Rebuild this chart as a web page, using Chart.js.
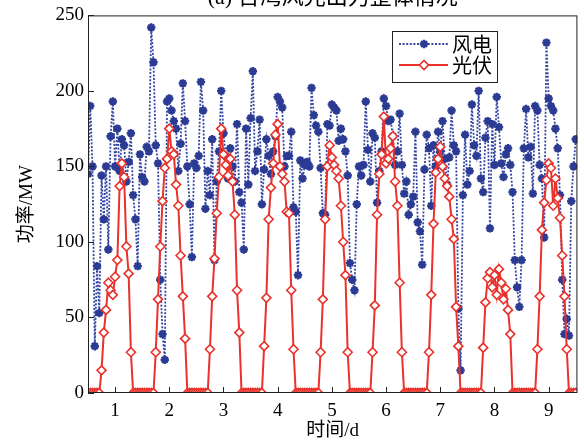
<!DOCTYPE html>
<html>
<head>
<meta charset="utf-8">
<script src="https://cdn.jsdelivr.net/npm/chart.js@4.4.1/dist/chart.umd.min.js"></script>
<style>
  html, body { margin: 0; padding: 0; background: #fff; }
  #wrap { width: 584px; height: 443px; }
</style>
</head>
<body>
<div id="wrap"><canvas id="grafico" width="584" height="443"></canvas></div>
<script>
const titulo = "(a) 台湾风光出力整体情况";
const xTicks = [1, 2, 3, 4, 5, 6, 7, 8, 9];
const yTicks = [0, 50, 100, 150, 200, 250];
// hourly samples, first one at day 0.5
const dayStart = 0.5;
const hourStep = 1 / 24;

const windMW = [
  145, 190, 150, 31, 84, 53, 144, 115, 150, 95, 170, 193, 150, 175, 147, 168, 164, 140, 153, 172, 131, 115, 84, 158,
  143, 140, 163, 160, 242, 219, 164, 152, 75, 39, 22, 193, 195, 187, 180, 175, 147, 165, 205, 180, 150, 125, 90, 152,
  149, 157, 206, 187, 122, 147, 131, 168, 88, 140, 160, 200, 172, 157, 142, 162, 150, 140, 178, 133, 126, 95, 175, 138,
  182, 213, 147, 160, 181, 125, 148, 168, 157, 145, 160, 170, 196, 193, 189, 150, 157, 157, 173, 123, 120, 78, 154, 142,
  151, 153, 150, 202, 184, 177, 173, 149, 119, 118, 178, 177, 191, 189, 187, 167, 175, 168, 160, 144, 86, 75, 68, 125,
  150, 144, 151, 193, 161, 140, 172, 169, 126, 147, 160, 195, 190, 180, 181, 170, 151, 160, 185, 151, 132, 140, 118, 125,
  130, 173, 113, 107, 85, 148, 171, 162, 124, 164, 150, 173, 160, 180, 155, 138, 156, 187, 164, 160, 56, 15, 131, 171,
  138, 147, 191, 164, 157, 200, 142, 133, 169, 180, 109, 178, 151, 196, 176, 152, 143, 158, 162, 151, 133, 88, 70, 57,
  88, 162, 188, 156, 163, 132, 190, 187, 151, 142, 103, 232, 195, 190, 187, 175, 162, 131, 75, 39, 49, 38, 127, 150,
  168
];

const solarMW = [
  0, 0, 0, 0, 0, 0, 15, 40, 55, 73, 68, 65, 77, 88, 137, 152, 143, 97, 79, 27, 0, 0, 0, 0,
  0, 0, 0, 0, 0, 0, 27, 62, 97, 127, 149, 155, 175, 160, 158, 138, 124, 91, 64, 36, 0, 0, 0, 0,
  0, 0, 0, 0, 0, 0, 29, 64, 89, 119, 143, 175, 158, 151, 144, 155, 140, 118, 68, 40, 0, 0, 0, 0,
  0, 0, 0, 0, 0, 0, 31, 63, 115, 136, 152, 171, 178, 150, 145, 140, 120, 119, 68, 29, 0, 0, 0, 0,
  0, 0, 0, 0, 0, 0, 0, 27, 62, 115, 150, 164, 156, 151, 147, 142, 124, 100, 78, 27, 0, 0, 0, 0,
  0, 0, 0, 0, 0, 0, 27, 58, 118, 145, 158, 183, 152, 155, 162, 170, 140, 124, 73, 27, 0, 0, 0, 0,
  0, 0, 0, 0, 0, 0, 0, 27, 65, 112, 146, 155, 163, 150, 142, 137, 130, 115, 102, 57, 31, 0, 0, 0,
  0, 0, 0, 0, 0, 0, 0, 30, 60, 76, 80, 70, 78, 65, 82, 73, 62, 69, 55, 39, 0, 0, 0, 0,
  0, 0, 0, 0, 0, 0, 0, 29, 64, 108, 126, 141, 152, 149, 124, 142, 129, 116, 91, 64, 29, 0, 0, 0,
  0
];

const serif = "'Liberation Serif', 'Noto Sans CJK SC', serif";
const cjk = "'Liberation Serif', 'Noto Sans CJK SC', sans-serif";

const toPoints = (arr) => arr.map((v, i) => ({ x: dayStart + i * hourStep, y: v }));

// box around the plot with inward ticks
const marco = {
  id: "marco",
  afterDatasetsDraw(chart) {
    const { ctx, chartArea: a, scales } = chart;
    ctx.save();
    ctx.strokeStyle = "#222";
    ctx.lineWidth = 1;
    ctx.setLineDash([]);
    ctx.strokeRect(a.left + 0.5, a.top + 0.5, a.right - a.left - 1, a.bottom - a.top - 1);
    ctx.beginPath();
    xTicks.forEach((v) => {
      const px = Math.round(scales.x.getPixelForValue(v)) + 0.5;
      ctx.moveTo(px, a.bottom);
      ctx.lineTo(px, a.bottom - 6);
    });
    yTicks.forEach((v) => {
      const py = Math.round(scales.y.getPixelForValue(v)) + 0.5;
      ctx.moveTo(a.left, py);
      ctx.lineTo(a.left + 6, py);
    });
    ctx.stroke();
    ctx.restore();
  },
};

const leyenda = {
  id: "leyenda",
  afterDraw(chart) {
    const { ctx } = chart;
    ctx.save();
    ctx.fillStyle = "#fff";
    ctx.fillRect(392, 31, 105, 51);
    ctx.strokeStyle = "#222";
    ctx.lineWidth = 1;
    ctx.strokeRect(392.5, 31.5, 105, 51);
    chart.data.datasets.forEach((ds, i) => {
      const y = 44 + i * 21;
      ctx.strokeStyle = ds.borderColor;
      ctx.lineWidth = ds.borderWidth;
      ctx.setLineDash(ds.borderDash || []);
      ctx.beginPath();
      ctx.moveTo(399, y);
      ctx.lineTo(448, y);
      ctx.stroke();
      ctx.setLineDash([]);
      ctx.fillStyle = ds.pointBackgroundColor;
      ctx.strokeStyle = ds.pointBorderColor;
      ctx.lineWidth = ds.pointBorderWidth;
      Chart.helpers.drawPoint(ctx, {
        pointStyle: ds.pointStyle, rotation: 0,
        radius: ds.pointRadius, borderWidth: ds.pointBorderWidth,
      }, 424, y);
      ctx.fillStyle = "#000";
      ctx.font = "20px 'Noto Sans CJK SC'";
      ctx.textBaseline = "middle";
      ctx.textAlign = "left";
      ctx.fillText(ds.label, 452, y);
    });
    ctx.restore();
  },
};

const tituloPlugin = {
  id: "tituloPlugin",
  afterDraw(chart) {
    const { ctx, chartArea: a } = chart;
    ctx.save();
    ctx.fillStyle = "#000";
    ctx.font = "22px " + cjk;
    ctx.textAlign = "center";
    ctx.textBaseline = "alphabetic";
    ctx.fillText(titulo, (a.left + a.right) / 2, a.top - 11);
    ctx.restore();
  },
};

const ctx = document.getElementById("grafico").getContext("2d");
const grafico = new Chart(ctx, {
  type: "line",
  data: {
    datasets: [
      {
        label: "风电",
        data: toPoints(windMW),
        borderColor: "#3646a3",
        borderWidth: 1.8,
        borderDash: [2, 1.6],
        pointStyle: "star",
        pointRadius: 4.2,
        pointBorderWidth: 2.4,
        pointBorderColor: "#2b3a92",
        pointBackgroundColor: "#2b3a92",
        order: 1,
      },
      {
        label: "光伏",
        data: toPoints(solarMW),
        borderColor: "#e8322b",
        borderWidth: 2,
        pointStyle: "rectRot",
        pointRadius: 4.5,
        pointBorderWidth: 1.6,
        pointBorderColor: "#e8322b",
        pointBackgroundColor: "#fff",
        order: 0,
      },
    ],
  },
  options: {
    responsive: false,
    animation: false,
    layout: { padding: { top: 14, right: 4, left: 0, bottom: 0 } },
    plugins: {
      legend: { display: false },
      tooltip: { enabled: false },
    },
    scales: {
      x: {
        type: "linear",
        min: 0.5,
        max: 9.53,
        afterBuildTicks: (s) => { s.ticks = xTicks.map((v) => ({ value: v })); },
        afterFit: (s) => { s.height = 50; },
        grid: { display: false, drawTicks: false },
        border: { display: false },
        ticks: { color: "#000", font: { family: serif, size: 19 }, padding: 7, maxRotation: 0 },
        title: { display: true, text: "时间/d", color: "#000", font: { family: cjk, size: 19 }, padding: { top: 0, bottom: 1 } },
      },
      y: {
        min: 0,
        max: 250,
        afterBuildTicks: (s) => { s.ticks = yTicks.map((v) => ({ value: v })); },
        afterFit: (s) => { s.width = 88; },
        grid: { display: false, drawTicks: false },
        border: { display: false },
        ticks: { color: "#000", font: { family: serif, size: 19 }, padding: 4 },
        title: { display: true, text: "功率/MW", color: "#000", font: { family: cjk, size: 19 }, padding: { top: 16, bottom: 0 } },
      },
    },
  },
  plugins: [tituloPlugin, marco, leyenda],
});
</script>
</body>
</html>
